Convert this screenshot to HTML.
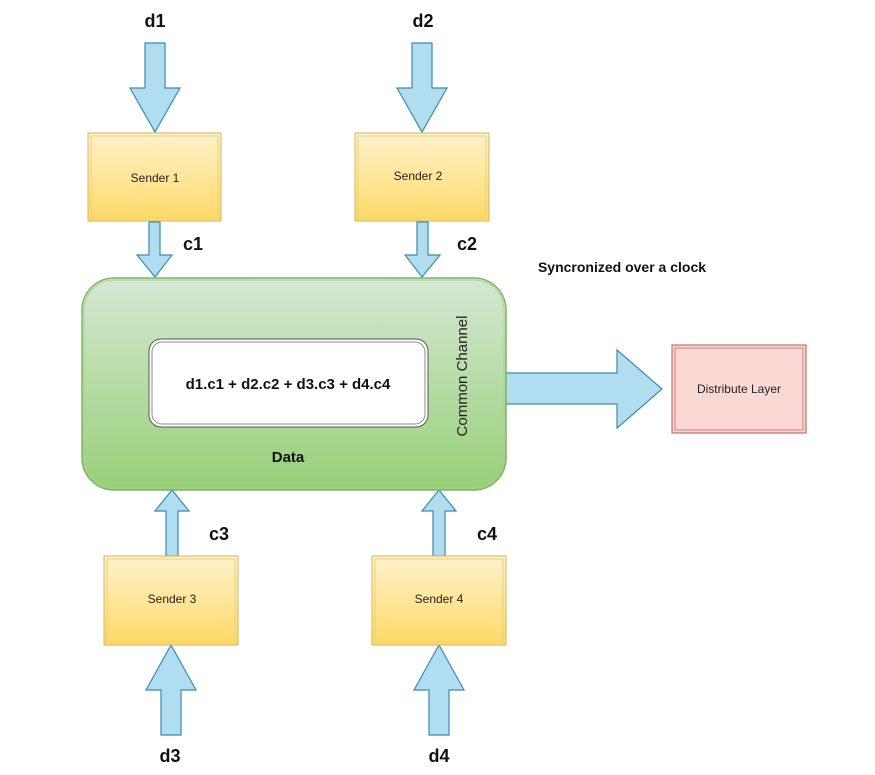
<!DOCTYPE html>
<html><head><meta charset="utf-8"><style>
html,body{margin:0;padding:0;background:#fff;}
svg{display:block;font-family:"Liberation Sans",Arial,sans-serif;}
</style></head><body>
<svg width="875" height="775" viewBox="0 0 875 775" xmlns="http://www.w3.org/2000/svg">
<defs>
<linearGradient id="y" x1="0" y1="0" x2="0" y2="1"><stop offset="0" stop-color="#fff2cc"/><stop offset="1" stop-color="#ffd966"/></linearGradient>
<linearGradient id="g" x1="0" y1="0" x2="0" y2="1"><stop offset="0" stop-color="#d5e8d4"/><stop offset="1" stop-color="#97d077"/></linearGradient>
</defs>
<g fill="#b1ddf0" stroke="#3a8bb0" stroke-width="1.2">
<!-- d1 -->
<polygon points="145,43 165,43 165,88 180,88 155,132 130,88 145,88"/>
<polygon points="412,43 432,43 432,88 447,88 422,132 397,88 412,88"/>
<!-- c1 c2 -->
<polygon points="149,222 160,222 160,255 172,255 155,277 137,255 149,255"/>
<polygon points="417,222 428,222 428,255 440,255 422,277 405,255 417,255"/>
<!-- c3 c4 -->
<polygon points="166,556 178,556 178,511 189,511 172,490 155,511 166,511"/>
<polygon points="433,556 445,556 445,511 456,511 439,490 422,511 433,511"/>
<!-- d3 d4 -->
<polygon points="161,735 181,735 181,690 196,690 171,645 146,690 161,690"/>
<polygon points="429,735 449,735 449,690 464,690 439,645 414,690 429,690"/>
<!-- big -->
<polygon points="506,373 617,373 617,350 662,389 617,428 617,404 506,404"/>
</g>
<rect x="82" y="278" width="424" height="212" rx="32" fill="url(#g)" stroke="#82b366" stroke-width="1.5"/>
<rect x="84" y="280" width="420" height="208" rx="30" fill="none" stroke="#a9d18e" stroke-width="1"/>
<rect x="149" y="339" width="279" height="88" rx="12" fill="#fff" stroke="#555" stroke-width="1"/>
<rect x="152" y="342" width="273" height="82" rx="10" fill="none" stroke="#888" stroke-width="1"/>
<g fill="url(#y)" stroke="#d6b656" stroke-width="1">
<rect x="88" y="133" width="133" height="88"/>
<rect x="355" y="133" width="134" height="88"/>
<rect x="104" y="556" width="134" height="89"/>
<rect x="372" y="556" width="134" height="89"/>
</g>
<g fill="none" stroke="#e8cf7e" stroke-width="1">
<rect x="91" y="136" width="127" height="82"/>
<rect x="358" y="136" width="128" height="82"/>
<rect x="107" y="559" width="128" height="83"/>
<rect x="375" y="559" width="128" height="83"/>
</g>
<rect x="672" y="345" width="134" height="88" fill="#fad9d5" stroke="#b85450" stroke-width="1"/>
<rect x="675" y="348" width="128" height="82" fill="none" stroke="#d08080" stroke-width="1"/>
<g font-size="12" fill="#222" text-anchor="middle">
<text x="155" y="182">Sender 1</text>
<text x="418" y="180">Sender 2</text>
<text x="172" y="603">Sender 3</text>
<text x="439" y="603">Sender 4</text>
<text x="739" y="393">Distribute Layer</text>
</g>
<g font-weight="bold" fill="#111" text-anchor="middle">
<text x="155" y="27" font-size="18">d1</text>
<text x="423" y="27" font-size="18">d2</text>
<text x="193" y="250" font-size="18">c1</text>
<text x="467" y="250" font-size="18">c2</text>
<text x="219" y="540" font-size="18">c3</text>
<text x="487" y="540" font-size="18">c4</text>
<text x="170" y="762" font-size="18">d3</text>
<text x="439" y="762" font-size="18">d4</text>
<text x="288" y="389" font-size="15">d1.c1 + d2.c2 + d3.c3 + d4.c4</text>
<text x="288" y="462" font-size="15">Data</text>
<text x="622" y="272" font-size="14">Syncronized over a clock</text>
</g>
<text transform="translate(467,376) rotate(-90)" text-anchor="middle" font-size="15" fill="#222">Common Channel</text>
</svg>
</body></html>
